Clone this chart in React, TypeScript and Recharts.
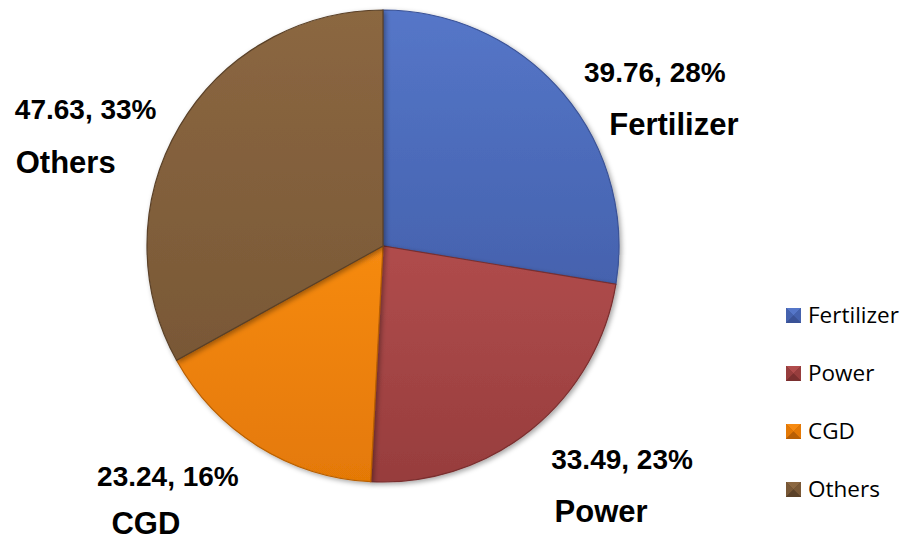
import React from 'react';
import { PieChart, Pie, Cell, Legend } from 'recharts';

const categories = ['Fertilizer', 'Power', 'CGD', 'Others'];
const values = [39.76, 33.49, 23.24, 47.63];
const percentLabels = ['28%', '23%', '16%', '33%'];

const colors = [
  { top: '#5576c8', bottom: '#4562ae', stroke: '#3a5296' },
  { top: '#b04c4c', bottom: '#973d3d', stroke: '#7a2f2f' },
  { top: '#f68a12', bottom: '#e47906', stroke: '#b85f05' },
  { top: '#8b6741', bottom: '#795836', stroke: '#5a4128' },
];

// label offsets (value line, name line) relative to arc midpoint
const labelOffsets = [
  { vx: 92, vy: -11, nx: 111, ny: 42 },
  { vx: 91, vy: 39, nx: 70, ny: 92 },
  { vx: -90, vy: 40, nx: -112, ny: 88 },
  { vx: -94, vy: -7, nx: -114, ny: 47 },
];

const data = categories.map((name, i) => ({ name, value: values[i], pct: percentLabels[i] }));

const RAD = Math.PI / 180;

const renderLabel = (props: any) => {
  const { cx, cy, midAngle, outerRadius, index } = props;
  const px = cx + outerRadius * Math.cos(-midAngle * RAD);
  const py = cy + outerRadius * Math.sin(-midAngle * RAD);
  const o = labelOffsets[index];
  const d = data[index];
  return (
    <g>
      <text x={px + o.vx} y={py + o.vy} textAnchor="middle" fontFamily="'Liberation Sans', Arial, sans-serif" fontWeight="bold" fontSize={28} fill="#000">
        {`${d.value.toFixed(2)}, ${d.pct}`}
      </text>
      <text x={px + o.nx} y={py + o.ny} textAnchor="middle" fontFamily="'Liberation Sans', Arial, sans-serif" fontWeight="bold" fontSize={31} fill="#000">
        {d.name}
      </text>
    </g>
  );
};

const BevelSquare = ({ c }: { c: typeof colors[number] }) => (
  <svg width={15} height={15} style={{ display: 'block' }}>
    <rect x={0} y={0} width={15} height={15} fill={c.stroke} />
    <polygon points="0,0 15,0 7.5,7.5" fill={c.top} />
    <polygon points="0,0 7.5,7.5 0,15" fill={c.bottom} />
    <polygon points="15,0 7.5,7.5 15,15" fill={c.bottom} />
    <polygon points="0,15 15,15 7.5,7.5" fill={c.stroke} />
  </svg>
);

const renderLegend = () => (
  <div style={{ fontFamily: "'Open Sans', sans-serif", fontSize: 22.5, color: '#000' }}>
    {categories.map((name, i) => (
      <div key={name} style={{ display: 'flex', alignItems: 'center', height: 58 }}>
        <BevelSquare c={colors[i]} />
        <span style={{ marginLeft: 7, lineHeight: '26px' }}>{name}</span>
      </div>
    ))}
  </div>
);

export default function App() {
  return (
    <div style={{ position: 'absolute', left: 0, top: 0, width: 906, height: 541, background: '#fff' }}>
      <PieChart width={906} height={541} margin={{ top: 0, right: 0, bottom: 0, left: 0 }}>
        <defs>
          {colors.map((c, i) => (
            <linearGradient key={i} id={`grad${i}`} x1="0" y1="0" x2="0" y2="1">
              <stop offset="0%" stopColor={c.top} />
              <stop offset="100%" stopColor={c.bottom} />
            </linearGradient>
          ))}
          <filter id="shadow" x="-10%" y="-10%" width="120%" height="120%">
            <feDropShadow dx="2" dy="2" stdDeviation="2.5" floodColor="#000" floodOpacity="0.35" />
          </filter>
        </defs>
        <Pie
          data={data}
          dataKey="value"
          nameKey="name"
          cx={383}
          cy={246}
          outerRadius={236}
          startAngle={90}
          endAngle={-270}
          isAnimationActive={false}
          label={renderLabel}
          labelLine={false}
          style={{ filter: 'url(#shadow)' }}
        >
          {data.map((d, i) => (
            <Cell key={d.name} fill={`url(#grad${i})`} stroke={colors[i].stroke} strokeWidth={1.2} />
          ))}
        </Pie>
        <Legend
          layout="vertical"
          content={renderLegend}
          wrapperStyle={{ position: 'absolute', left: 786, top: 286, width: 120 }}
        />
      </PieChart>
    </div>
  );
}
